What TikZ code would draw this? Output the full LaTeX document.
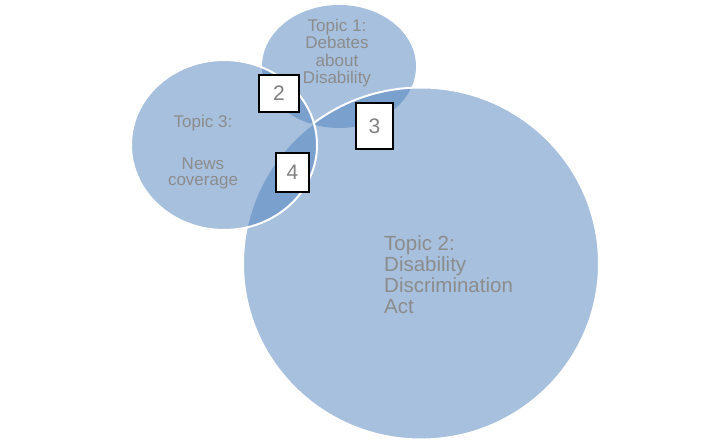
\documentclass[tikz,border=0pt]{standalone}
\usepackage{fontspec}
\setmainfont{Liberation Sans}
\definecolor{topicblue}{HTML}{4F81BD}
\definecolor{labelgray}{HTML}{8C8C8C}
\definecolor{numgray}{HTML}{808080}
\tikzset{
  topic/.style={fill=topicblue, fill opacity=0.5, draw=white, line width=2pt},
  topiclabel/.style={text=labelgray, inner sep=0pt, font=\fontsize{17}{17.3}\selectfont},
  numbox/.style={draw=black, fill=white, line width=1.3pt, text=numgray, inner sep=0pt,
    font=\fontsize{21}{21}\selectfont}
}
\begin{document}
\begin{tikzpicture}[x=1pt, y=-1pt]
				\useasboundingbox (0,0) rectangle (725,446);
				
				% Ba vòng chủ đề chồng lên nhau
				\coordinate (C1) at (339,66.5);
				\coordinate (C2) at (421,263.5);
				\coordinate (C3) at (224,145);
				\filldraw[topic, draw=none] (C1) ellipse [x radius=77, y radius=61.5];
				\filldraw[topic] (C2) ellipse [x radius=178, y radius=176];
				\filldraw[topic] (C3) ellipse [x radius=93, y radius=85];
				
				% Nhãn chủ đề
				\node[topiclabel, anchor=north, align=center] (t1) at (337,19)
					{Topic 1:\\Debates\\about\\Disability};
				\node[topiclabel, anchor=north, align=center, font=\fontsize{17}{15.5}\selectfont] (t3) at (203,115)
					{Topic 3:\\[26.5pt]News\\coverage};
				\node[topiclabel, anchor=north west, align=left, font=\fontsize{20.5}{21}\selectfont] (t2) at (384,235)
					{Topic 2:\\Disability\\Discrimination\\Act};
				
				% Ô số tại các phần giao
				\node[numbox, minimum width=40pt, minimum height=37pt] (n2) at (279,93.5) {2};
				\node[numbox, minimum width=37pt, minimum height=46pt] (n3) at (374.5,126) {3};
				\node[numbox, minimum width=33pt, minimum height=39pt] (n4) at (292.5,172.5) {4};
			\end{tikzpicture}
\end{document}
